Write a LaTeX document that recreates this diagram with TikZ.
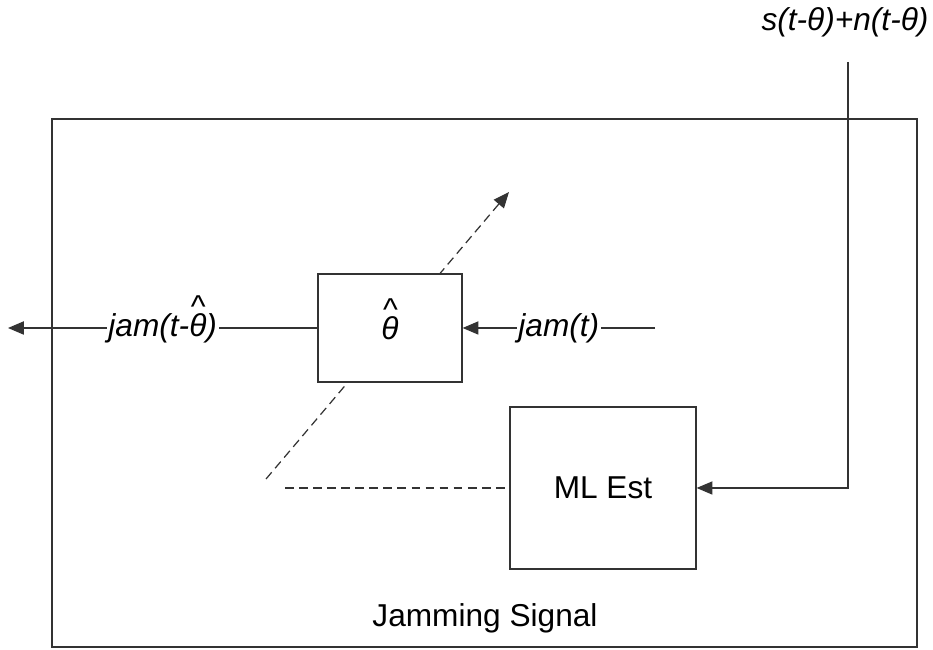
\documentclass[tikz,border=0pt]{standalone}
\usepackage{fontspec}
\setmainfont{Liberation Sans}
\usetikzlibrary{arrows.meta,positioning}
% theta mit Dach
\newcommand{\hatth}{\ooalign{θ\cr\hidewidth\raisebox{0.6em}{\textasciicircum}\hidewidth\cr}}

\begin{document}
\begin{tikzpicture}[
  font=\fontsize{18}{21}\selectfont,
  linie/.style={draw=black!80, line width=0.7pt},
  pfeil/.style={linie, -{Triangle[length=9pt,width=7.5pt]}},
  block/.style={linie, fill=white, rectangle, inner sep=0pt},
  strich/.style={dash pattern=on 5pt off 3pt},
  lbl/.style={fill=white, inner sep=1pt, font=\fontsize{18}{21}\selectfont\itshape}]
  \useasboundingbox (0,0) rectangle (18.66,13);

  % Rahmen
  \node[linie, rectangle, minimum width=17.3cm, minimum height=10.56cm] (rahmen) at (9.69,5.34) {};
  \node (jamsig) at (9.7,0.64) {Jamming Signal};

  % gestrichelter Pfeil (unter dem Block)
  \coordinate (dstart) at (5.32,3.42);
  \coordinate (dtip) at (10.18,9.16);
  \draw[pfeil, strich] (dstart) -- (dtip);

  % Bloecke
  \node[block, minimum width=2.88cm, minimum height=2.16cm] (schaetzer) at (7.8,6.44) {\itshape\hatth};
  \node[block, minimum width=3.72cm, minimum height=3.24cm] (mlest) at (12.06,3.24) {ML Est};

  % Ausgang links
  \coordinate (aus) at (0.16,6.44);
  \draw[pfeil] (schaetzer.west) -- node[lbl] {jam(t-\hatth)} (aus);

  % Eingang jam(t)
  \coordinate (jamein) at (13.1,6.44);
  \draw[pfeil] (jamein) -- node[lbl] {jam(t)} (schaetzer.east);

  % gestrichelte Linie zum ML-Schaetzer
  \coordinate (hstart) at (5.7,3.24);
  \draw[linie, strich] (hstart) -- (mlest.west);

  % Empfangssignal
  \node[font=\fontsize{18}{21}\selectfont\itshape] (empfang) at (16.9,12.56) {s(t-θ)+n(t-θ)};
  \coordinate (ein) at (16.96,11.76);
  \draw[pfeil] (ein) |- (mlest.east);
\end{tikzpicture}
\end{document}
